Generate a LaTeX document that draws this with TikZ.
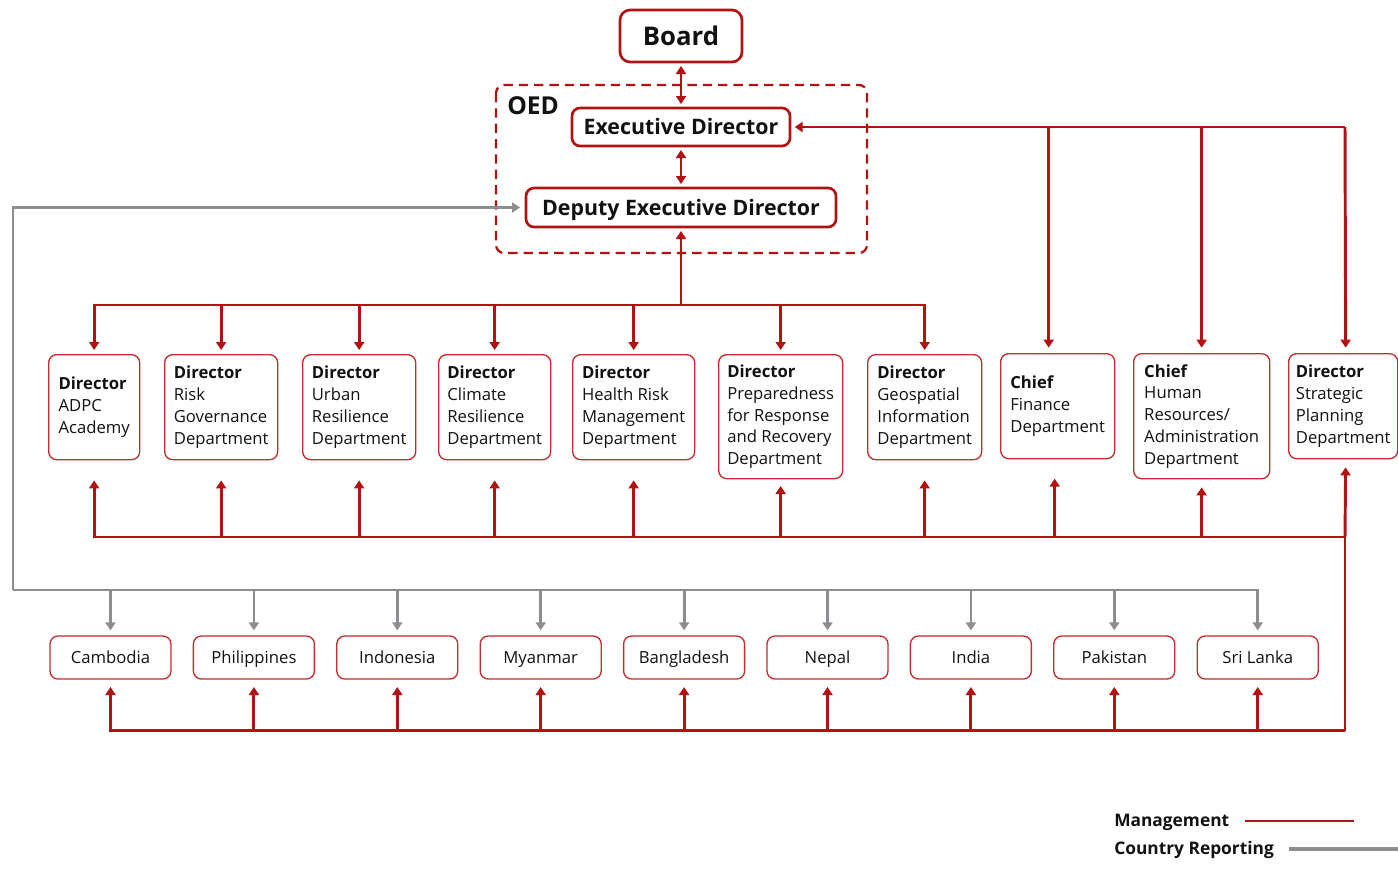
\documentclass[tikz,border=0pt]{standalone}
\usepackage{fontspec}
\setmainfont{Open Sans}
\usetikzlibrary{arrows.meta,calc}
\definecolor{mgmt}{RGB}{178,18,18}
\definecolor{boxred}{RGB}{196,45,45}
\definecolor{rptgray}{RGB}{140,140,145}
\definecolor{ink}{RGB}{17,17,17}
\tikzset{
  mgmtline/.style={draw=mgmt, line width=2.2pt},
  mgmtarrow/.style={mgmtline, ->},
  rptarrow/.style={draw=rptgray, line width=2.1pt, ->},
  topbox/.style={draw=mgmt, line width=2pt, rounded corners=6pt, fill=white,
    inner sep=0pt, text=ink, text height=11.5pt, text depth=0pt,
    font=\bfseries\fontsize{16}{19}\selectfont},
  dept/.style={draw=boxred, line width=1pt, rounded corners=6pt, fill=white,
    align=left, inner sep=0pt, anchor=north west, text=ink,
    minimum width=#1, font=\fontsize{12.5}{16.3}\selectfont},
  country/.style={draw=boxred, line width=1pt, rounded corners=6pt, fill=white,
    minimum width=90.75pt, minimum height=32.25pt, inner sep=0pt, text=ink,
    text height=9pt, text depth=0pt, font=\fontsize{12.5}{15}\selectfont},
  legendtxt/.style={anchor=base west, inner sep=0pt, text=ink,
    font=\bfseries\fontsize{13}{15}\selectfont}
}
\begin{document}
\begin{tikzpicture}[x=0.75pt, y=-0.75pt, >={Triangle[length=6pt,width=7.5pt]}]
\useasboundingbox (0,0) rectangle (1398,882);
\fill[white] (0,0) rectangle (1398,882);

% Office of the Executive Director
\draw[mgmt, line width=1.7pt, dash pattern=on 7pt off 4.5pt, rounded corners=6pt]
  (496,85) rectangle (867,253);
\node[anchor=base west, inner sep=0pt, text=ink, font=\bfseries\fontsize{18.5}{22}\selectfont]
  (oed) at (507,114) {OED};

\node[topbox, font=\bfseries\fontsize{19.3}{23}\selectfont, text height=13.8pt,
  minimum width=91.5pt, minimum height=39pt, rounded corners=7.5pt] (board) at (681,36) {Board};
\node[topbox, minimum width=163.5pt, minimum height=28.5pt] (ed) at (681,127) {Executive Director};
\node[topbox, minimum width=232.5pt, minimum height=29.25pt] (dep) at (681,207.5) {Deputy Executive Director};

% Departments
\node[dept=68.25pt, minimum height=78.75pt] (adpc) at (48,354) {\textbf{Director}\\ADPC\\Academy};
\node[dept=84.75pt, minimum height=78.75pt] (risk) at (164,354) {\textbf{Director}\\Risk\\Governance\\Department};
\node[dept=84.75pt, minimum height=78.75pt] (urban) at (302,354) {\textbf{Director}\\Urban\\Resilience\\Department};
\node[dept=84pt, minimum height=78.75pt] (climate) at (438,354) {\textbf{Director}\\Climate\\Resilience\\Department};
\node[dept=91.5pt, minimum height=78.75pt] (health) at (572,354) {\textbf{Director}\\Health Risk\\Management\\Department};
\node[dept=93pt, minimum height=93pt] (prep) at (718,354) {\textbf{Director}\\Preparedness\\for Response\\and Recovery\\Department};
\node[dept=85.5pt, minimum height=78.75pt] (geo) at (867,354) {\textbf{Director}\\Geospatial\\Information\\Department};
\node[dept=85.5pt, minimum height=78.75pt] (fin) at (1000,353) {\textbf{Chief}\\Finance\\Department};
\node[dept=102pt, minimum height=93.75pt] (hr) at (1133,353) {\textbf{Chief}\\Human\\Resources/\\Administration\\Department};
\node[dept=81.75pt, minimum height=78.75pt] (strat) at (1288,353) {\textbf{Director}\\Strategic\\Planning\\Department};

% Country offices
\node[country] (kh) at (110.5,657.5) {Cambodia};
\node[country] (ph) at (253.9,657.5) {Philippines};
\node[country] (id) at (397.3,657.5) {Indonesia};
\node[country] (mm) at (540.7,657.5) {Myanmar};
\node[country] (bd) at (684.1,657.5) {Bangladesh};
\node[country] (np) at (827.5,657.5) {Nepal};
\node[country] (in) at (970.9,657.5) {India};
\node[country] (pk) at (1114.3,657.5) {Pakistan};
\node[country] (lk) at (1257.7,657.5) {Sri Lanka};

% Management lines at the top
\draw[mgmtline, <->, shorten <=2pt, shorten >=2pt] (board) -- (ed);
\draw[mgmtline, <->, shorten <=2pt, shorten >=2pt] (ed) -- (dep);

\coordinate (topbus) at (681,305);
\draw[mgmtarrow, shorten >=2pt] (topbus) -- (dep.south);
\foreach \d in {adpc,risk,urban,climate,health,prep,geo}
  \draw[mgmtarrow, shorten >=3pt] (topbus) -| (\d.north);

\coordinate (edbus) at (1345,127);
\draw[mgmtarrow, shorten >=2.5pt] (edbus) -- (ed.east);
\draw[mgmtarrow, shorten >=4pt] (edbus) -| ([xshift=-6.75pt]fin.north);
\draw[mgmtarrow, shorten >=4pt] (edbus) -| (hr.north);
\draw[mgmtarrow, shorten >=4pt] (edbus) -- ([xshift=1.875pt]strat.north);

% Management lines below the departments
\coordinate (botbus) at (1345,537);
\foreach \d in {adpc,risk,urban,climate,health,geo}
  \draw[mgmtarrow, shorten >=15pt] (botbus) -| (\d.south);
\draw[mgmtarrow, shorten >=5pt] (botbus) -| (prep.south);
\draw[mgmtarrow, shorten >=14.5pt] (botbus) -| ([xshift=-2.25pt]fin.south);
\draw[mgmtarrow, shorten >=6pt] (botbus) -| (hr.south);
\draw[mgmtarrow, shorten >=6pt] (botbus) -- ([xshift=1.875pt]strat.south);

\coordinate (ctybus) at (1345,730.5);
\draw[mgmtline] (botbus) -- (ctybus);
\foreach \c in {kh,ph,id,mm,bd,np,in,pk,lk}
  \draw[mgmtarrow, shorten >=5.5pt] (ctybus) -| (\c.south);

% Country reporting lines
\coordinate (gbus) at (13,590);
\draw[rptarrow, shorten >=3.5pt] (gbus) |- (dep.west);
\foreach \c in {kh,ph,id,mm,bd,np,in,pk,lk}
  \draw[rptarrow, shorten >=3.75pt] (gbus) -| (\c.north);

% Legend
\node[legendtxt] (lgm) at (1114,826) {Management};
\node[legendtxt] (lgc) at (1114,854) {Country Reporting};
\coordinate (lgmline) at (1245,821);
\coordinate (lgcline) at (1289,849);
\draw[mgmtline] (lgmline) -- ++(109,0);
\draw[draw=rptgray, line width=2.4pt] (lgcline) -- ++(109,0);
\end{tikzpicture}
\end{document}
